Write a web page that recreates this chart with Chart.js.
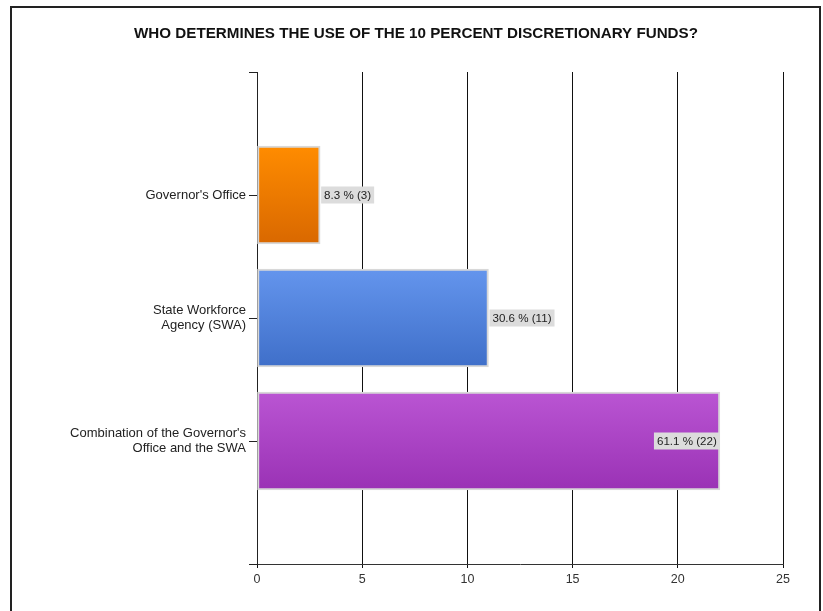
<!DOCTYPE html>
<html>
<head>
<meta charset="utf-8">
<script src="https://cdn.jsdelivr.net/npm/chart.js@4"></script>
<style>
  html, body { margin: 0; padding: 0; background: #fff; }
  #wrap { position: relative; width: 823px; height: 611px; overflow: hidden; }
  #frame { position: absolute; left: 10px; top: 6px; width: 811px; height: 640px; border: 2px solid #222; box-sizing: border-box; }
  canvas { position: absolute; left: 0; top: 0; }
</style>
</head>
<body>
<div id="wrap">
  <div id="frame"></div>
  <canvas id="c" width="823" height="611"></canvas>
</div>
<script>
const chartTitle = "WHO DETERMINES THE USE OF THE 10 PERCENT DISCRETIONARY FUNDS?";
const categories = [
  "Governor's Office",
  ["State Workforce", "Agency (SWA)"],
  ["Combination of the Governor's", "Office and the SWA"]
];
const counts = [3, 11, 22];
const percents = [8.3, 30.6, 61.1];
const xTicks = [0, 5, 10, 15, 20, 25];
const topColors = ["#FF8C00", "#6495ED", "#BA55D3"];
const bottomColors = ["#D96800", "#3F6FC9", "#9A32B5"];

// pad the category axis with empty slots above and below
const labels = [""].concat(categories, [""]);
const values = [null].concat(counts, [null]);
const FONT = "'Liberation Sans', Arial, sans-serif";
const BAR_T = 98;

function barFill(c) {
  const i = c.dataIndex - 1;
  if (i < 0 || i >= counts.length) return "#000";
  const ch = c.chart;
  const ys = ch.scales && ch.scales.y;
  if (!ys || !ch.chartArea) return topColors[i];
  const yc = ys.getPixelForValue(c.dataIndex);
  const g = ch.ctx.createLinearGradient(0, yc - BAR_T / 2, 0, yc + BAR_T / 2);
  g.addColorStop(0, topColors[i]);
  g.addColorStop(1, bottomColors[i]);
  return g;
}

const titleDraw = {
  id: "titleDraw",
  afterDraw(chart) {
    const ctx = chart.ctx;
    ctx.save();
    ctx.font = "bold 15.2px " + FONT;
    ctx.fillStyle = "#111";
    ctx.textAlign = "center";
    ctx.textBaseline = "middle";
    ctx.fillText(chartTitle, 416, 34);
    ctx.restore();
  }
};

const valueLabels = {
  id: "valueLabels",
  afterDatasetsDraw(chart) {
    const ctx = chart.ctx;
    const meta = chart.getDatasetMeta(0);
    const area = chart.chartArea;
    ctx.save();
    ctx.font = "11.6px " + FONT;
    ctx.textBaseline = "middle";
    meta.data.forEach((el, k) => {
      const i = k - 1;
      if (i < 0 || i >= counts.length) return;
      const txt = percents[i].toFixed(1) + " % (" + counts[i] + ")";
      const w = ctx.measureText(txt).width + 6;
      const h = 17;
      let x0 = el.x + 1;
      if (x0 + w > area.right - 4) x0 = el.x - w;
      ctx.fillStyle = "#DCDCDC";
      ctx.fillRect(x0, el.y - h / 2, w, h);
      ctx.fillStyle = "#222";
      ctx.textAlign = "left";
      ctx.fillText(txt, x0 + 3, el.y + 0.5);
    });
    ctx.restore();
  }
};

new Chart(document.getElementById("c"), {
  type: "bar",
  data: {
    labels: labels,
    datasets: [{
      data: values,
      backgroundColor: barFill,
      borderColor: "#D8D8D8",
      borderWidth: 2,
      borderSkipped: false,
      barThickness: BAR_T
    }]
  },
  options: {
    indexAxis: "y",
    responsive: false,
    animation: false,
    layout: { padding: { left: 0, right: 40, top: 72, bottom: 0 } },
    plugins: {
      legend: { display: false },
      tooltip: { enabled: false },
      title: { display: false }
    },
    scales: {
      x: {
        type: "linear",
        min: 0,
        max: 25,
        afterBuildTicks(s) { s.ticks = xTicks.map(v => ({ value: v })); },
        afterFit(s) { s.height = 47; },
        grid: { color: "#111", lineWidth: 1, drawTicks: true, tickLength: 4, tickColor: "#111" },
        border: { color: "#333", width: 1 },
        ticks: { color: "#333", font: { family: FONT, size: 12.5 }, padding: 4, autoSkip: false }
      },
      y: {
        type: "category",
        offset: false,
        afterFit(s) { s.width = 257; },
        grid: { offset: false, drawOnChartArea: false, drawTicks: true, tickLength: 8, tickColor: "#222" },
        border: { color: "#222", width: 1 },
        ticks: { color: "#222", font: { family: FONT, size: 13, lineHeight: 1.1 }, padding: 3, autoSkip: false }
      }
    }
  },
  plugins: [valueLabels, titleDraw]
});
</script>
</body>
</html>
